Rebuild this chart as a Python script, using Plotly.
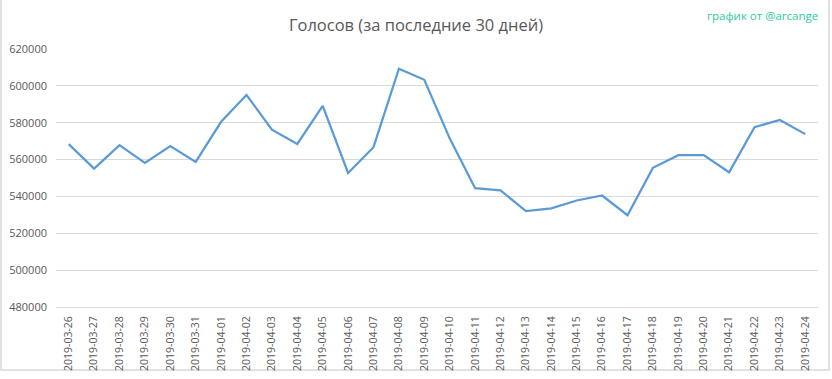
import plotly.graph_objects as go

dates = ["2019-03-26", "2019-03-27", "2019-03-28", "2019-03-29", "2019-03-30", "2019-03-31",
         "2019-04-01", "2019-04-02", "2019-04-03", "2019-04-04", "2019-04-05", "2019-04-06",
         "2019-04-07", "2019-04-08", "2019-04-09", "2019-04-10", "2019-04-11", "2019-04-12",
         "2019-04-13", "2019-04-14", "2019-04-15", "2019-04-16", "2019-04-17", "2019-04-18",
         "2019-04-19", "2019-04-20", "2019-04-21", "2019-04-22", "2019-04-23", "2019-04-24"]
votes = [568400, 555100, 567800, 558200, 567300, 558700,
         580500, 595100, 576200, 568500, 589100, 552700,
         566700, 609300, 603300, 571500, 544500, 543300,
         532000, 533500, 537800, 540500, 529800, 555500,
         562400, 562400, 553100, 577600, 581500, 573800]
y_ticks = [480000, 500000, 520000, 540000, 560000, 580000, 600000, 620000]

title_text = "Голосов (за последние 30 дней)"
credit_text = "график от @arcange"

W, H = 832, 379
L, R, T, B = 56, 14, 49, 72
pw, ph = W - L - R, H - T - B


def px_x(x):
    return (x - L) / pw


def px_y(y):
    return (H - B - y) / ph


fig = go.Figure()
fig.add_trace(go.Scatter(x=dates, y=votes, mode="lines",
                         line=dict(color="#5B9BD5", width=2.25), hoverinfo="x+y"))

fig.update_layout(
    width=W, height=H,
    margin=dict(l=L, r=R, t=T, b=B),
    paper_bgcolor="white", plot_bgcolor="white",
    showlegend=False,
    font=dict(family="Open Sans, Noto Sans, sans-serif", color="#595959", size=11),
    title=dict(text=title_text, x=0.5, xref="container", xanchor="center",
               y=1 - 25 / H, yref="container", yanchor="middle",
               font=dict(size=16.5, color="#595959", family="Open Sans, sans-serif")),
    annotations=[dict(text=credit_text, xref="paper", yref="paper", x=px_x(820), y=px_y(15),
                      xanchor="right", yanchor="middle", showarrow=False,
                      font=dict(size=11.5, color="#2BCB9E", family="Open Sans, sans-serif"))],
    shapes=[dict(type="rect", xref="paper", yref="paper",
                 x0=px_x(1), x1=px_x(829), y0=px_y(370), y1=px_y(-2),
                 line=dict(color="#D9D9D9", width=1.5), fillcolor="rgba(0,0,0,0)", layer="below")],
)
fig.update_xaxes(type="category", range=[-0.5, len(dates) - 0.5], tickangle=-90,
                 showgrid=False, showline=True, linecolor="#D9D9D9", linewidth=1,
                 ticks="", tickfont=dict(size=10.5, color="#595959"), ticklabelstandoff=4,
                 automargin=False)
fig.update_yaxes(range=[480000, 620000], tickvals=y_ticks, ticktext=[str(v) for v in y_ticks],
                 showgrid=True, gridcolor="#D9D9D9", gridwidth=1, zeroline=False,
                 showline=False, ticks="", tickfont=dict(size=11, color="#595959"),
                 ticklabelstandoff=8, automargin=False)

fig.write_html("out.html", config={"displayModeBar": False},
               post_script="document.body.style.margin='0';document.body.style.overflow='hidden';")
